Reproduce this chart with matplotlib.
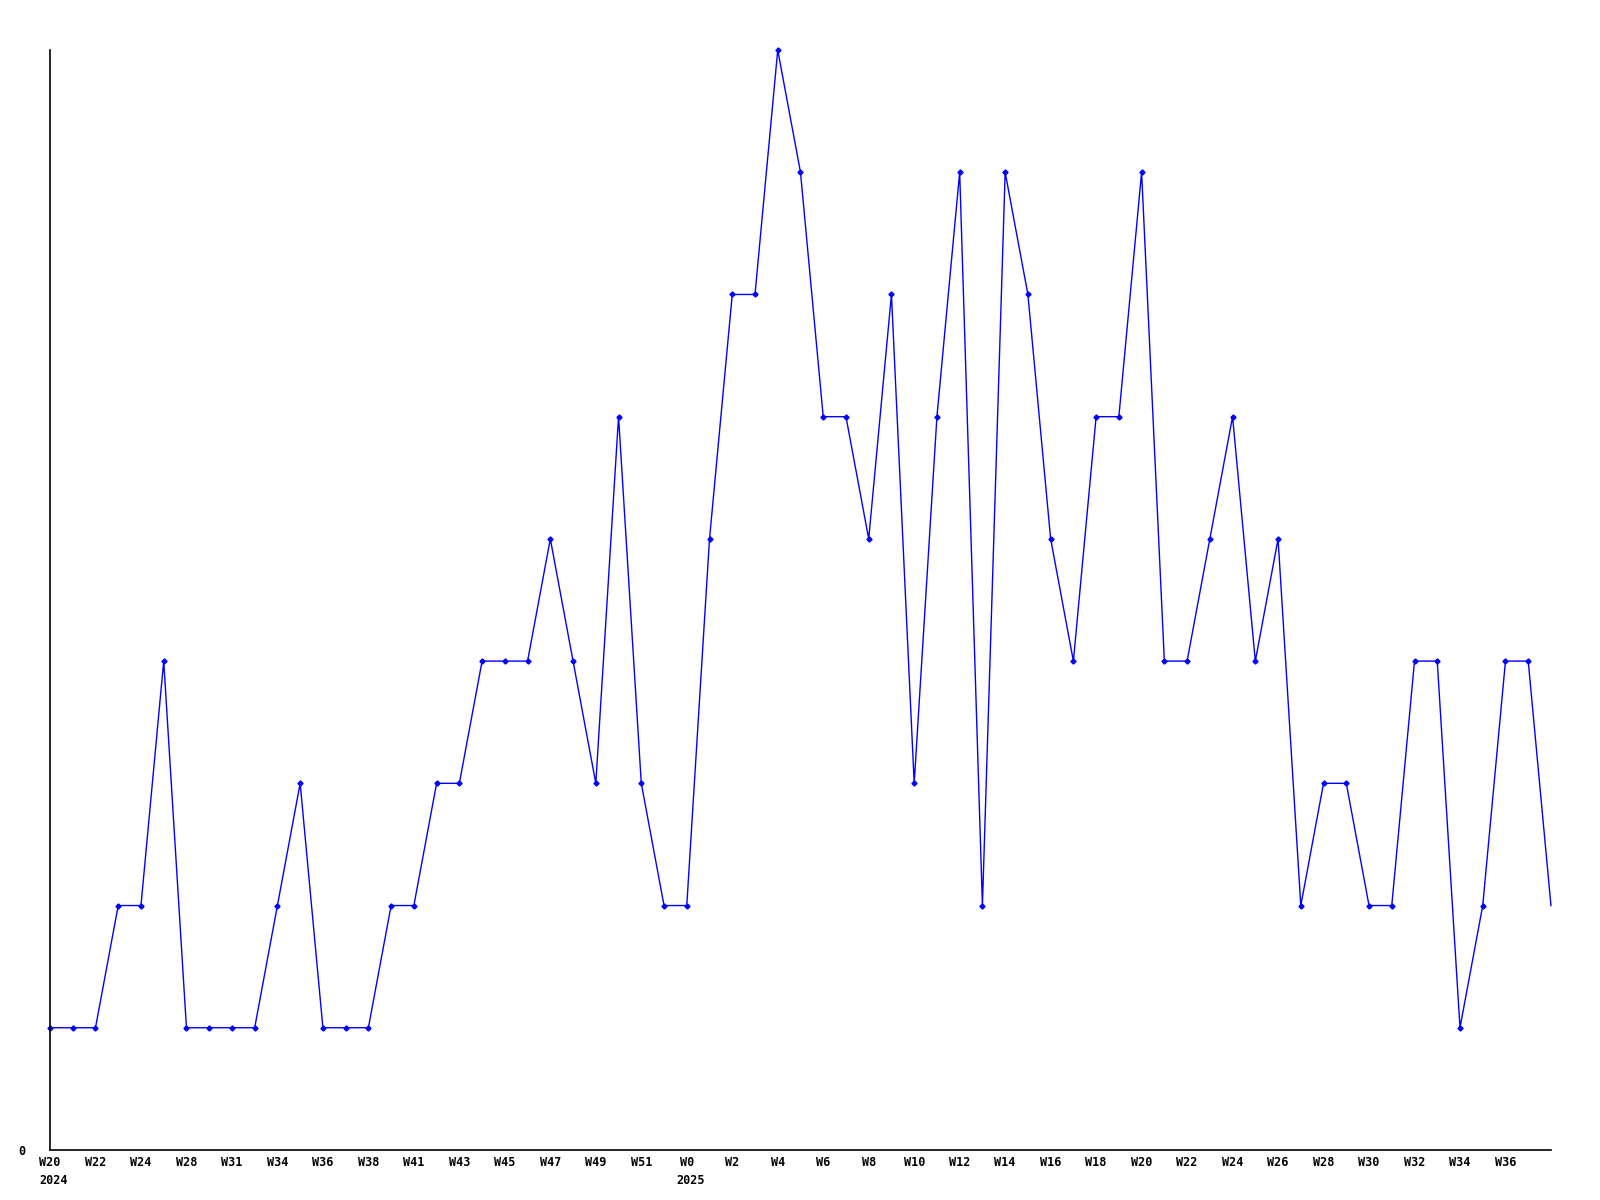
import matplotlib
matplotlib.use("Agg")
import matplotlib.pyplot as plt
import matplotlib.transforms as mtransforms

# weekly values, W20 2024 .. W38 2025 (last point sits on the right edge)
values = [1, 1, 1, 2, 2, 4, 1, 1, 1, 1,
          2, 3, 1, 1, 1, 2, 2, 3, 3, 4,
          4, 4, 5, 4, 3, 6, 3, 2, 2, 5,
          7, 7, 9, 8, 6, 6, 5, 7, 3, 6,
          8, 2, 8, 7, 5, 4, 6, 6, 8, 4,
          4, 5, 6, 4, 5, 2, 3, 3, 2, 2,
          4, 4, 1, 2, 4, 4, 2]

tick_labels = ["W20", "W22", "W24", "W28", "W31", "W34", "W36", "W38", "W41",
               "W43", "W45", "W47", "W49", "W51", "W0", "W2", "W4", "W6", "W8",
               "W10", "W12", "W14", "W16", "W18", "W20", "W22", "W24", "W26",
               "W28", "W30", "W32", "W34", "W36"]
years = {0: "2024", 28: "2025"}

x = list(range(len(values)))
tick_pos = list(range(0, 2 * len(tick_labels), 2))

fig = plt.figure(figsize=(16, 12), dpi=100)
ax = fig.add_axes([0.03125, 0.0417, 0.9381, 0.9166])

ax.plot(x, values, color="#0000ff", linewidth=1.0,
        marker="D", markersize=2.6, markevery=list(range(len(values) - 1)),
        clip_on=False)

ax.set_xlim(0, len(values) - 1)
ax.set_ylim(0, 9)

font = dict(family="DejaVu Sans Mono", weight="bold", size=8.5)
ax.set_xticks(tick_pos)
ax.set_xticklabels(tick_labels, **font)
ax.set_yticks([0])
ax.set_yticklabels(["0"], **font)
ax.tick_params(axis="x", length=0, pad=4)
ax.tick_params(axis="y", length=0, pad=18)

trans = mtransforms.blended_transform_factory(ax.transData, ax.transAxes)
for pos, yr in years.items():
    ax.annotate(yr, xy=(pos, 0), xycoords=trans, xytext=(-7.5, -17),
                textcoords="offset points", ha="left", va="top", **font)

for side in ["top", "right"]:
    ax.spines[side].set_visible(False)
for side in ["left", "bottom"]:
    ax.spines[side].set_color("black")
    ax.spines[side].set_linewidth(1.2)

fig.savefig("out.png", dpi=100, facecolor="white")
